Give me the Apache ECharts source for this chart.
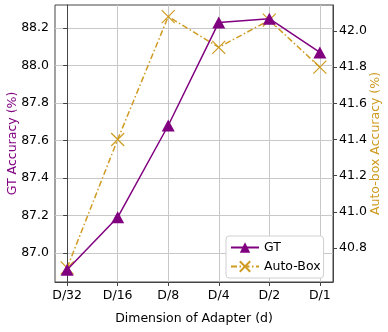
<!DOCTYPE html>
<html>
<head>
<meta charset="utf-8">
<script src="https://cdn.jsdelivr.net/npm/echarts@6/dist/echarts.min.js"></script>
<style>
  html, body { margin: 0; padding: 0; background: #fff; }
  #chart { width: 388px; height: 332px; }
</style>
</head>
<body>
<div id="chart"></div>
<script>
// dimensions on the x axis
var categories = ['D/32', 'D/16', 'D/8', 'D/4', 'D/2', 'D/1'];
// GT accuracy, left axis
var gtValues = [86.91, 87.19, 87.68, 88.23, 88.25, 88.07];
// Auto-box accuracy, right axis
var autoBoxValues = [40.69, 41.40, 42.08, 41.91, 42.06, 41.80];
// tick labels
var leftTicks = [87.0, 87.2, 87.4, 87.6, 87.8, 88.0, 88.2];
var rightTicks = [40.8, 41.0, 41.2, 41.4, 41.6, 41.8, 42.0];

var purple = '#800080';
var gold = '#cf9b22';
var font = 'DejaVu Sans';

function pairs(vals) {
    return vals.map(function (v, i) { return [i, v]; });
}

var chart = echarts.init(document.getElementById('chart'));
chart.setOption({
    animation: false,
    textStyle: { fontFamily: font },
    grid: {
        left: 55, right: 55, top: 5, bottom: 50,
        outerBoundsMode: 'none', containLabel: false,
        show: true, borderColor: '#444', borderWidth: 1
    },
    legend: {
        orient: 'vertical',
        left: 226,
        top: 236,
        padding: [5, 3, 5, 4],
        itemGap: 6,
        itemWidth: 28,
        itemHeight: 13,
        backgroundColor: '#fff',
        borderColor: '#d0d0d0',
        borderWidth: 1,
        borderRadius: 3,
        textStyle: { fontFamily: font, fontSize: 12.5, color: '#000' },
        data: ['GT', 'Auto-Box']
    },
    xAxis: {
        type: 'value',
        min: -0.24,
        max: 5.26,
        name: 'Dimension of Adapter (d)',
        nameLocation: 'middle',
        nameGap: 30,
        nameMoveOverlap: false,
        nameTextStyle: { fontFamily: font, fontSize: 12.5, color: '#000' },
        axisLine: { lineStyle: { color: '#444' } },
        axisTick: { customValues: [0, 1, 2, 3, 4, 5], length: 4, lineStyle: { color: '#444' } },
        axisLabel: {
            customValues: [0, 1, 2, 3, 4, 5],
            fontFamily: font, fontSize: 12.5, color: '#000', margin: 7,
            formatter: function (v) { return categories[Math.round(v)]; }
        },
        splitLine: { show: true, lineStyle: { color: '#c8c8c8', width: 1 } }
    },
    yAxis: [{
        type: 'value',
        position: 'left',
        min: 86.845,
        max: 88.323,
        name: 'GT Accuracy (%)',
        nameLocation: 'middle',
        nameRotate: 90,
        nameGap: 36,
        nameMoveOverlap: false,
        nameTextStyle: { fontFamily: font, fontSize: 12.5, color: purple },
        axisLine: { show: true, lineStyle: { color: '#444' } },
        axisTick: { show: true, customValues: leftTicks, length: 4, lineStyle: { color: '#444' } },
        axisLabel: {
            customValues: leftTicks,
            fontFamily: font, fontSize: 12.5, color: '#000', margin: 6,
            formatter: function (v) { return v.toFixed(1); }
        },
        splitLine: { show: true, lineStyle: { color: '#c8c8c8', width: 1 } }
    }, {
        type: 'value',
        position: 'right',
        min: 40.612,
        max: 42.144,
        name: 'Auto-box Accuracy (%)',
        nameLocation: 'middle',
        nameRotate: 90,
        nameGap: 36,
        nameMoveOverlap: false,
        nameTextStyle: { fontFamily: font, fontSize: 12.5, color: gold },
        axisLine: { show: true, lineStyle: { color: '#444' } },
        axisTick: { show: true, customValues: rightTicks, length: 4, lineStyle: { color: '#444' } },
        axisLabel: {
            customValues: rightTicks,
            fontFamily: font, fontSize: 12.5, color: '#000', margin: 6,
            formatter: function (v) { return v.toFixed(1); }
        },
        splitLine: { show: false }
    }],
    series: [{
        name: 'GT',
        type: 'line',
        yAxisIndex: 0,
        data: pairs(gtValues),
        symbol: 'triangle',
        symbolSize: [13, 12],
        color: purple,
        itemStyle: { color: purple },
        lineStyle: { color: purple, width: 1.5 },
        z: 3
    }, {
        name: 'Auto-Box',
        type: 'line',
        yAxisIndex: 1,
        data: pairs(autoBoxValues),
        symbol: 'path://M0,0L10,10M10,0L0,10',
        symbolSize: 13,
        color: gold,
        itemStyle: { color: 'rgba(0,0,0,0)', borderColor: gold, borderWidth: 1.2 },
        lineStyle: { color: gold, width: 1.5, type: [6, 2.5, 1.5, 2.5] },
        z: 2
    }]
});
</script>
</body>
</html>
